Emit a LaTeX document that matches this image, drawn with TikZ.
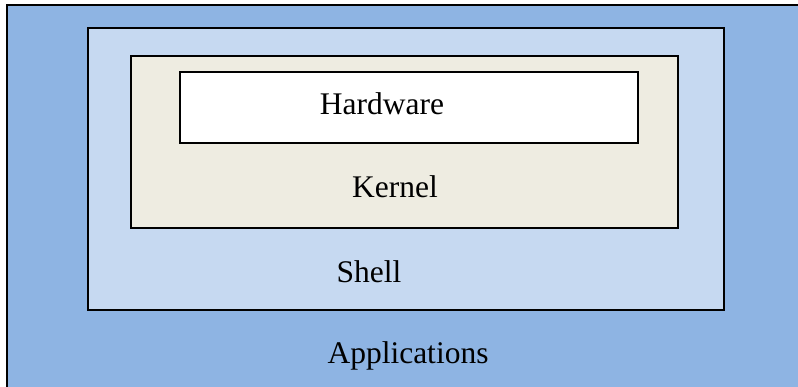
\documentclass[tikz,border=0pt]{standalone}
\usepackage{fontspec}
\setmainfont{Liberation Serif}
\usepackage{xcolor}
\definecolor{appblue}{HTML}{8EB4E3}
\definecolor{shellblue}{HTML}{C6D9F1}
\definecolor{kernelgray}{HTML}{EEECE1}

\begin{document}
\begin{tikzpicture}[
  x=1pt, y=-1pt,
  layer/.style={draw=black, line width=1.6pt, inner sep=0pt, outer sep=0pt},
  lbl/.style={font=\fontsize{31.5}{36}\selectfont, anchor=base, inner sep=0pt}
]
\useasboundingbox (0,0) rectangle (798,386);
\node[layer, fill=appblue, minimum width=799pt, minimum height=390pt] (apps) at (406.5,200) {};
\node[layer, fill=shellblue, minimum width=636pt, minimum height=282pt] (shell) at (406,169) {};
\node[layer, fill=kernelgray, minimum width=547pt, minimum height=172pt] (kernel) at (404.5,142) {};
\node[layer, fill=white, minimum width=458pt, minimum height=71pt] (hw) at (409,107.5) {};

\node[lbl] (hwlabel) at (382,114) {Hardware};
\node[lbl] (kernellabel) at (395,197) {Kernel};
\node[lbl] (shelllabel) at (369,282) {Shell};
\node[lbl] (appslabel) at (408,363) {Applications};
\end{tikzpicture}
\end{document}
